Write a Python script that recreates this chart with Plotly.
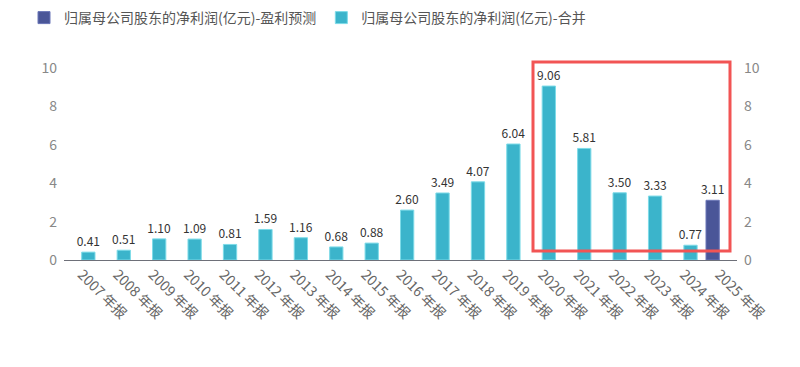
import plotly.graph_objects as go

categories = ["2007 年报", "2008 年报", "2009 年报", "2010 年报", "2011 年报", "2012 年报",
              "2013 年报", "2014 年报", "2015 年报", "2016 年报", "2017 年报", "2018 年报",
              "2019 年报", "2020 年报", "2021 年报", "2022 年报", "2023 年报", "2024 年报",
              "2025 年报"]
merged = [0.41, 0.51, 1.10, 1.09, 0.81, 1.59, 1.16, 0.68, 0.88, 2.60, 3.49, 4.07,
          6.04, 9.06, 5.81, 3.50, 3.33, 0.77, None]
forecast = [None] * 18 + [3.11]
name_forecast = "归属母公司股东的净利润(亿元)-盈利预测"
name_merged = "归属母公司股东的净利润(亿元)-合并"
y_ticks = [0, 2, 4, 6, 8, 10]

# page body has an 8px default margin; figure is sized/offset to compensate
OFF = 8
W, H = 800 - OFF, 367 - OFF
L, R, T, B = 64 - OFF, 63, 68 - OFF, 107
pw, ph = W - L - R, H - T - B

def fmt(v):
    return "" if v is None else f"{v:.2f}"

fig = go.Figure()
fig.add_trace(go.Bar(
    x=categories, y=forecast, name=name_forecast,
    marker=dict(color="#4a5698", line=dict(color="#6b77b8", width=1)),
    text=[fmt(v) for v in forecast], textposition="outside", constraintext="none",
    textfont=dict(size=12, color="#333333"), cliponaxis=False,
))
fig.add_trace(go.Bar(
    x=categories, y=merged, name=name_merged,
    marker=dict(color="#3bb4cb", line=dict(color="#7ddbe8", width=1)),
    text=[fmt(v) for v in merged], textposition="outside", constraintext="none",
    textfont=dict(size=12, color="#333333"), cliponaxis=False,
))
# invisible helper so the mirrored right axis is drawn
fig.add_trace(go.Scatter(x=categories, y=merged, yaxis="y2", mode="markers",
                         marker=dict(opacity=0, size=1), showlegend=False,
                         hoverinfo="skip"))

def px2paper_x(px):
    return (px - OFF - L) / pw

def px2paper_y(py):
    return (H - B - (py - OFF)) / ph

fig.add_shape(type="rect", xref="paper", yref="paper",
              x0=px2paper_x(533), x1=px2paper_x(730),
              y0=px2paper_y(251), y1=px2paper_y(62),
              line=dict(color="#f25454", width=3))

fig.update_layout(
    width=W, height=H,
    margin=dict(l=L, r=R, t=T, b=B, autoexpand=False),
    paper_bgcolor="white", plot_bgcolor="white",
    font=dict(family="Noto Sans CJK SC, Noto Sans, sans-serif", color="#666666"),
    barmode="group", bargap=0.25, bargroupgap=0,
    legend=dict(orientation="h", x=(24 - OFF) / W, y=1 - (18 - OFF) / H,
                xref="container", yref="container",
                xanchor="left", yanchor="middle",
                font=dict(size=14, color="#555555"), tracegroupgap=0),
    xaxis=dict(type="category", tickangle=45, tickfont=dict(size=14, color="#666666"),
               range=[-0.5, len(categories) - 0.5],
               showline=True, linecolor="#6e7079", linewidth=1, ticks="",
               showgrid=False, zeroline=False, automargin=False),
    yaxis=dict(range=[0, 10], tickvals=y_ticks, showgrid=False, zeroline=False,
               showline=False, tickfont=dict(size=14, color="#888888"), ticklabelstandoff=6,
               automargin=False),
    yaxis2=dict(range=[0, 10], tickvals=y_ticks, overlaying="y", side="right", anchor="x",
                showgrid=False, zeroline=False, showline=False, showticklabels=True,
                tickfont=dict(size=14, color="#888888"), ticklabelstandoff=6,
                automargin=False),
)

fig.write_html("out.html")
